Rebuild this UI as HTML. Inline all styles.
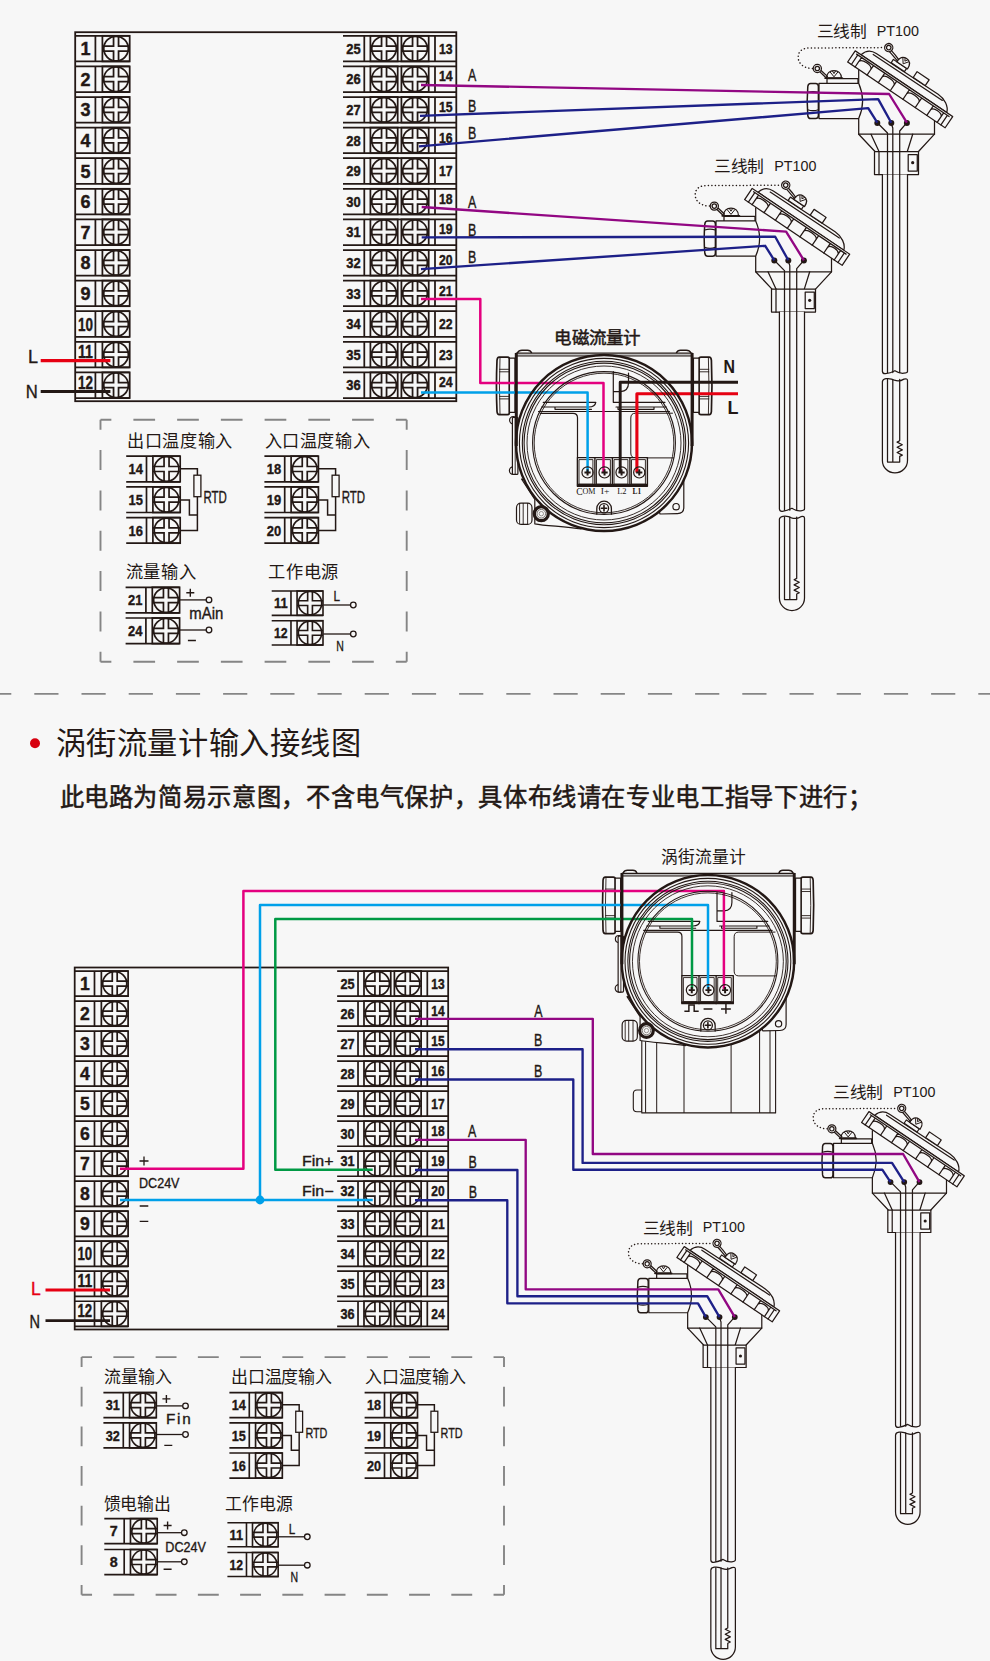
<!DOCTYPE html>
<html lang="zh-CN"><head><meta charset="utf-8"><title>wiring</title><style>html,body{margin:0;padding:0;background:#f7f7f7}svg{display:block}</style></head><body>
<svg width="990" height="1661" viewBox="0 0 990 1661" font-family="'Liberation Sans', sans-serif" fill="#231815">
<style>.m{stroke:#231815;stroke-width:.35px}</style>
<defs><g id="scr"><rect width="27.3" height="25.6"/><circle cx="13.65" cy="12.8" r="12.3"/><path d="M11.15,0V10.3H0M16.15,0V10.3H27.3M11.15,25.6V15.3H0M16.15,25.6V15.3H27.3"/></g><g id="blk" fill="none" stroke="#231815" stroke-width="1.75"><rect y="-0.3" width="381.1" height="369" stroke-width="1.8"/><use href="#scr" x="27.2" y="3.3"/><use href="#scr" x="295.2" y="3.3"/><use href="#scr" x="326.2" y="3.3"/><use href="#scr" x="27.2" y="33.9"/><use href="#scr" x="295.2" y="33.9"/><use href="#scr" x="326.2" y="33.9"/><use href="#scr" x="27.2" y="64.5"/><use href="#scr" x="295.2" y="64.5"/><use href="#scr" x="326.2" y="64.5"/><use href="#scr" x="27.2" y="95.1"/><use href="#scr" x="295.2" y="95.1"/><use href="#scr" x="326.2" y="95.1"/><use href="#scr" x="27.2" y="125.7"/><use href="#scr" x="295.2" y="125.7"/><use href="#scr" x="326.2" y="125.7"/><use href="#scr" x="27.2" y="156.3"/><use href="#scr" x="295.2" y="156.3"/><use href="#scr" x="326.2" y="156.3"/><use href="#scr" x="27.2" y="186.9"/><use href="#scr" x="295.2" y="186.9"/><use href="#scr" x="326.2" y="186.9"/><use href="#scr" x="27.2" y="217.5"/><use href="#scr" x="295.2" y="217.5"/><use href="#scr" x="326.2" y="217.5"/><use href="#scr" x="27.2" y="248.1"/><use href="#scr" x="295.2" y="248.1"/><use href="#scr" x="326.2" y="248.1"/><use href="#scr" x="27.2" y="278.7"/><use href="#scr" x="295.2" y="278.7"/><use href="#scr" x="326.2" y="278.7"/><use href="#scr" x="27.2" y="309.3"/><use href="#scr" x="295.2" y="309.3"/><use href="#scr" x="326.2" y="309.3"/><use href="#scr" x="27.2" y="339.9"/><use href="#scr" x="295.2" y="339.9"/><use href="#scr" x="326.2" y="339.9"/><path d="M0,3.3H54.5M0,28.9H54.5M20.2,3.3V28.9M267.8,3.3H381.1M267.8,28.9H381.1M289.1,3.3V28.9M359.8,3.3V28.9M0,33.9H54.5M0,59.5H54.5M20.2,33.9V59.5M267.8,33.9H381.1M267.8,59.5H381.1M289.1,33.9V59.5M359.8,33.9V59.5M0,64.5H54.5M0,90.1H54.5M20.2,64.5V90.1M267.8,64.5H381.1M267.8,90.1H381.1M289.1,64.5V90.1M359.8,64.5V90.1M0,95.1H54.5M0,120.7H54.5M20.2,95.1V120.7M267.8,95.1H381.1M267.8,120.7H381.1M289.1,95.1V120.7M359.8,95.1V120.7M0,125.7H54.5M0,151.3H54.5M20.2,125.7V151.3M267.8,125.7H381.1M267.8,151.3H381.1M289.1,125.7V151.3M359.8,125.7V151.3M0,156.3H54.5M0,181.9H54.5M20.2,156.3V181.9M267.8,156.3H381.1M267.8,181.9H381.1M289.1,156.3V181.9M359.8,156.3V181.9M0,186.9H54.5M0,212.5H54.5M20.2,186.9V212.5M267.8,186.9H381.1M267.8,212.5H381.1M289.1,186.9V212.5M359.8,186.9V212.5M0,217.5H54.5M0,243.1H54.5M20.2,217.5V243.1M267.8,217.5H381.1M267.8,243.1H381.1M289.1,217.5V243.1M359.8,217.5V243.1M0,248.1H54.5M0,273.7H54.5M20.2,248.1V273.7M267.8,248.1H381.1M267.8,273.7H381.1M289.1,248.1V273.7M359.8,248.1V273.7M0,278.7H54.5M0,304.3H54.5M20.2,278.7V304.3M267.8,278.7H381.1M267.8,304.3H381.1M289.1,278.7V304.3M359.8,278.7V304.3M0,309.3H54.5M0,334.9H54.5M20.2,309.3V334.9M267.8,309.3H381.1M267.8,334.9H381.1M289.1,309.3V334.9M359.8,309.3V334.9M0,339.9H54.5M0,365.5H54.5M20.2,339.9V365.5M267.8,339.9H381.1M267.8,365.5H381.1M289.1,339.9V365.5M359.8,339.9V365.5"/></g><g id="pt" fill="#f7f7f7" stroke="#231815" stroke-width="1.25" stroke-linejoin="round" stroke-linecap="round"><path d="M812.5,68.5C804,68.3 798.5,64 798.2,57.5C798,51 803,48 809,48L884.5,47.6" fill="none" stroke-width="1.5" stroke-dasharray="0.1 3.4"/><path d="M810.6,83.5H815.6Q818.4,83.5 818.4,86.5V115.6Q818.4,118.6 815.6,118.6H810.6Q808.2,118.6 807.8,115.6Q806.6,101 807.8,86.5Q808.2,83.5 810.6,83.5Z" stroke-width="1.5"/><path d="M807.6,92.4Q813,90.6 818.4,92.4M807.6,109.8Q813,111.6 818.4,109.8" fill="none" stroke-width="1.2"/><path d="M858,83.3V78.7H827V83.3"/><path d="M858.7,70.2V83.3H819V118.5H858.7V134.2H934.5V120.5Z" stroke="none"/><path d="M858.7,83.3H819V118.5H858.7M858.7,70.2V83.3Q866.5,101 858.7,118.5V134.2H934.5V120.5" fill="none"/><path d="M826.6,78C826.6,73 830,70.5 834,70.5C838,70.5 841.4,73 841.4,78Z"/><path d="M830.3,72.2L834,76.8L837.7,72.2M832.4,70.9L834,73.6L835.6,70.9" fill="none" stroke-width="1"/><path d="M825.2,78.2H842.4" fill="none" stroke-width="1.7"/><path d="M819.4,71.4L826,77.7M820.8,70.2L827.4,76.4" fill="none" stroke-width="1.3"/><circle cx="817.3" cy="68.5" r="4.1"/><circle cx="817.3" cy="68.5" r="2.2"/><path d="M858.7,134.2L875,151.5M934.5,134.2L918.5,151.5M871,134.2L879,151.5M912.7,134.2L907.3,151.5" fill="none"/><rect x="874.5" y="151.5" width="44" height="23"/><path d="M879,151.5V174.5" fill="none"/><rect x="908.2" y="154.5" width="9.1" height="16.5"/><circle cx="912.7" cy="162.7" r="1.6" fill="#231815" stroke="none"/><path d="M882.4,174.5V371.4q0.3,2.6 3,2.3q5,-0.6 9.5,-3q4.5,3 9,2.5q3.6,-0.4 3.6,-1.8V174.5"/><path d="M882.4,381.6q0.3,-2.4 3.5,-2.9q5,-0.6 8.5,1.5q5,1.7 9.5,-1.1q3.6,-1 3.6,1.5V460.4A12.55,12.55 0 0 1 882.4,460.4Z"/><path d="M877.3,122.7L887.5,133V372.6M887.5,379.4V462H899.7V456.4l2.6,-1.3 -5.2,-2.6 5.2,-2.6 -5.2,-2.6 5.2,-2.6 -5.2,-2.6 2.6,-1.3V379.4M899.7,372.6V131L906.9,122.7M891,122.7L892.8,128V372.6M892.8,379.4V462" fill="none"/><g transform="translate(855.2,50.8) rotate(34)"><path d="M7,0C8.5,-6 13,-9.6 19,-9.6L93,-10.4C101,-10.4 108.5,-6 110.5,0Z"/><path d="M17,-7L100,-7.6" fill="none"/><rect x="63" y="-17.3" width="14.5" height="7"/><rect x="36.5" y="-14.2" width="16" height="4"/><path d="M40.5,-14.2C40.5,-19.5 43,-22.3 47,-22.3C51,-22.3 53.5,-19.5 53.5,-14.2Z"/><path d="M43.6,-20.6L47,-16L50.4,-20.6M45.4,-21.9L47,-19.2L48.6,-21.9" fill="none" stroke-width="0.9"/><path d="M28.5,-18.6C33,-17.6 36,-16.5 41,-15.2M29.3,-20.6C33.5,-19.6 37,-18.6 41,-17" fill="none"/><circle cx="26" cy="-21.4" r="4.1"/><circle cx="26" cy="-21.4" r="2.2"/><rect x="0" y="0" width="117.6" height="13.5"/><path d="M4.5,2V13.5M9,2V13.5M108,2V13.5M112.5,2V13.5M3,2H114.6M9,13.5V6.5C10.2,2.6 22.2,2.6 23.4,6.5V13.5M37,13.5V6.5C38.2,2.6 50.2,2.6 51.4,6.5V13.5M66.7,13.5V6.5C67.9,2.6 80.3,2.6 81.5,6.5V13.5M95.5,13.5V6.5C96.7,2.6 106.8,2.6 108,6.5V13.5M23.4,2V7M37,2V7M51.4,2V7M66.7,2V7M81.5,2V7M95.5,2V7" fill="none"/></g></g><g id="scl"><rect width="28" height="26"/><circle cx="14" cy="13" r="12.5"/><path d="M11.5,0V10.5H0M16.5,0V10.5H28M11.5,26V15.5H0M16.5,26V15.5H28"/></g></defs>
<rect width="990" height="1661" fill="#f7f7f7"/>
<use href="#blk" x="75.2" y="32.5"/>
<g transform="translate(75.2,32.5)"><g font-weight="bold" text-anchor="middle" stroke="#231815" stroke-width="0.4" fill="#231815"><text x="10.3" y="22.6" font-size="18">1</text><text x="278.3" y="21.2" font-size="14" textLength="14.4" lengthAdjust="spacingAndGlyphs">25</text><text x="370.6" y="21.2" font-size="14" textLength="13.6" lengthAdjust="spacingAndGlyphs">13</text><text x="10.3" y="53.2" font-size="18">2</text><text x="278.3" y="51.8" font-size="14" textLength="14.4" lengthAdjust="spacingAndGlyphs">26</text><text x="370.6" y="48.8" font-size="14" textLength="13.6" lengthAdjust="spacingAndGlyphs">14</text><text x="10.3" y="83.8" font-size="18">3</text><text x="278.3" y="82.4" font-size="14" textLength="14.4" lengthAdjust="spacingAndGlyphs">27</text><text x="370.6" y="79.4" font-size="14" textLength="13.6" lengthAdjust="spacingAndGlyphs">15</text><text x="10.3" y="114.4" font-size="18">4</text><text x="278.3" y="113" font-size="14" textLength="14.4" lengthAdjust="spacingAndGlyphs">28</text><text x="370.6" y="110" font-size="14" textLength="13.6" lengthAdjust="spacingAndGlyphs">16</text><text x="10.3" y="145" font-size="18">5</text><text x="278.3" y="143.6" font-size="14" textLength="14.4" lengthAdjust="spacingAndGlyphs">29</text><text x="370.6" y="143.6" font-size="14" textLength="13.6" lengthAdjust="spacingAndGlyphs">17</text><text x="10.3" y="175.6" font-size="18">6</text><text x="278.3" y="174.2" font-size="14" textLength="14.4" lengthAdjust="spacingAndGlyphs">30</text><text x="370.6" y="171.2" font-size="14" textLength="13.6" lengthAdjust="spacingAndGlyphs">18</text><text x="10.3" y="206.2" font-size="18">7</text><text x="278.3" y="204.8" font-size="14" textLength="14.4" lengthAdjust="spacingAndGlyphs">31</text><text x="370.6" y="201.8" font-size="14" textLength="13.6" lengthAdjust="spacingAndGlyphs">19</text><text x="10.3" y="236.8" font-size="18">8</text><text x="278.3" y="235.4" font-size="14" textLength="14.4" lengthAdjust="spacingAndGlyphs">32</text><text x="370.6" y="232.4" font-size="14" textLength="13.6" lengthAdjust="spacingAndGlyphs">20</text><text x="10.3" y="267.4" font-size="18">9</text><text x="278.3" y="266" font-size="14" textLength="14.4" lengthAdjust="spacingAndGlyphs">33</text><text x="370.6" y="263" font-size="14" textLength="13.6" lengthAdjust="spacingAndGlyphs">21</text><text x="10.3" y="298" font-size="18" textLength="15" lengthAdjust="spacingAndGlyphs">10</text><text x="278.3" y="296.6" font-size="14" textLength="14.4" lengthAdjust="spacingAndGlyphs">34</text><text x="370.6" y="296.6" font-size="14" textLength="13.6" lengthAdjust="spacingAndGlyphs">22</text><text x="10.3" y="325.6" font-size="18" textLength="15" lengthAdjust="spacingAndGlyphs">11</text><text x="278.3" y="327.2" font-size="14" textLength="14.4" lengthAdjust="spacingAndGlyphs">35</text><text x="370.6" y="327.2" font-size="14" textLength="13.6" lengthAdjust="spacingAndGlyphs">23</text><text x="10.3" y="356.2" font-size="18" textLength="15" lengthAdjust="spacingAndGlyphs">12</text><text x="278.3" y="357.8" font-size="14" textLength="14.4" lengthAdjust="spacingAndGlyphs">36</text><text x="370.6" y="354.8" font-size="14" textLength="13.6" lengthAdjust="spacingAndGlyphs">24</text></g></g>
<path d="M40.7,360.6H110.4" stroke="#e60012" stroke-width="3.4" fill="none"/>
<path d="M40.7,391.5H110.4" stroke="#231815" stroke-width="3" fill="none"/>
<text x="28" y="363.3" font-size="18" class="m">L</text>
<text x="25.8" y="398" font-size="18" textLength="12" lengthAdjust="spacingAndGlyphs" class="m">N</text>
<use href="#pt"/>
<use href="#pt" transform="translate(-103,137.6)"/>
<circle cx="877.3" cy="122.9" r="3" fill="#231815"/><circle cx="891.3" cy="122.9" r="3" fill="#231815"/><circle cx="906.9" cy="122.9" r="3" fill="#231815"/>
<polyline points="421,85 889.1,94 906.9,122.7" fill="none" stroke="#920783" stroke-width="2.35" stroke-linejoin="round"/>
<polyline points="420,115.8 878.2,99.1 891.3,122.7" fill="none" stroke="#1d2088" stroke-width="2.35" stroke-linejoin="round"/>
<polyline points="419,146.3 868.2,108.2 877.3,122.7" fill="none" stroke="#1d2088" stroke-width="2.35" stroke-linejoin="round"/>
<circle cx="774.3" cy="260.5" r="3" fill="#231815"/><circle cx="788.3" cy="260.5" r="3" fill="#231815"/><circle cx="803.9" cy="260.5" r="3" fill="#231815"/>
<polyline points="421.7,207 786.1,231.6 803.9,260.3" fill="none" stroke="#920783" stroke-width="2.35" stroke-linejoin="round"/>
<polyline points="421.7,237.4 775.2,236.7 788.3,260.3" fill="none" stroke="#1d2088" stroke-width="2.35" stroke-linejoin="round"/>
<polyline points="421,269.2 765.2,245.8 774.3,260.3" fill="none" stroke="#1d2088" stroke-width="2.35" stroke-linejoin="round"/>
<text x="472.2" y="81.4" font-size="16" text-anchor="middle" textLength="8.3" lengthAdjust="spacingAndGlyphs" class="m">A</text>
<text x="472.2" y="111.9" font-size="16" text-anchor="middle" textLength="8.3" lengthAdjust="spacingAndGlyphs" class="m">B</text>
<text x="472.2" y="138.7" font-size="16" text-anchor="middle" textLength="8.3" lengthAdjust="spacingAndGlyphs" class="m">B</text>
<text x="472.2" y="207.9" font-size="16" text-anchor="middle" textLength="8.3" lengthAdjust="spacingAndGlyphs" class="m">A</text>
<text x="472.2" y="235.7" font-size="16" text-anchor="middle" textLength="8.3" lengthAdjust="spacingAndGlyphs" class="m">B</text>
<text x="472.2" y="262.5" font-size="16" text-anchor="middle" textLength="8.3" lengthAdjust="spacingAndGlyphs" class="m">B</text>
<text x="816.5" y="37.2" font-size="16.3" textLength="49.5" lengthAdjust="spacingAndGlyphs">三线制</text><text x="876.8" y="36.1" font-size="15.4" textLength="42.2" lengthAdjust="spacingAndGlyphs">PT100</text>
<text x="714" y="171.9" font-size="16.3" textLength="49.5" lengthAdjust="spacingAndGlyphs">三线制</text><text x="774.3" y="170.8" font-size="15.4" textLength="42.2" lengthAdjust="spacingAndGlyphs">PT100</text>
<g fill="#f7f7f7" stroke="#231815" stroke-width="1.2" stroke-linejoin="round" stroke-linecap="round"><g><path d="M499.2,357.1H507.4Q509.4,357.1 509.4,359V412.8Q509.4,414.7 507.4,414.7H499.2Q497.3,414.7 497,411.5Q495.9,386 497,360.3Q497.3,357.1 499.2,357.1Z" stroke-width="1.7"/><path d="M500,358Q498.9,386 500,413.8M499.6,369.3H509M499.6,371.8H509M499.6,396.4H509M499.6,398.9H509" fill="none" stroke-width="0.9"/><rect x="509.4" y="358.2" width="5.6" height="54.2" stroke-width="1.3"/></g><g transform="translate(1208.4,0) scale(-1,1)"><path d="M499.2,357.1H507.4Q509.4,357.1 509.4,359V412.8Q509.4,414.7 507.4,414.7H499.2Q497.3,414.7 497,411.5Q495.9,386 497,360.3Q497.3,357.1 499.2,357.1Z" stroke-width="1.7"/><path d="M500,358Q498.9,386 500,413.8M499.6,369.3H509M499.6,371.8H509M499.6,396.4H509M499.6,398.9H509" fill="none" stroke-width="0.9"/><rect x="509.4" y="358.2" width="5.6" height="54.2" stroke-width="1.3"/></g><path d="M517.5,352.8q1.2,-2.6 4.5,-2.6h5.5q3,0 4,2.6M676.5,352.8q1,-2.6 4,-2.6h5.8q3.3,0 4.5,2.6" stroke-width="1.5"/><path d="M516.3,447V353.2H692.1V447" stroke-width="1.3"/><path d="M516.3,355.9H692.1" fill="none" stroke-width="1.2"/><path d="M517.5,354.55H691" fill="none" stroke="#bdbdbd" stroke-width="1.3"/><circle cx="513.2" cy="420.3" r="3.6"/><circle cx="513.2" cy="470.6" r="3.8"/><rect x="512.4" y="417.4" width="5.5" height="57" rx="1"/><path d="M515.2,417.4V474.4" fill="none" stroke-width="0.9"/><path d="M521.5,479L534.8,499.5V523.8C546,526 565,526.3 581,529L604,500Z"/><rect x="516.5" y="503.2" width="15.5" height="21.2" rx="4.5"/><path d="M519.6,504V523.6M523.2,503.4V524.2M527.6,503.4V524.2" fill="none" stroke-width="0.9"/><path d="M683.8,465V507.5Q683.8,513.4 677.5,513.6L660,514L650,480Z"/><circle cx="676.1" cy="506.7" r="3.2"/><circle cx="604" cy="443" r="88" stroke="none"/><path d="M543.2,402.3H595.8Q595,406.8 589,407H541.6M555,407V409.3H591.5M538.5,411.5H669.5M540.3,413.3H573Q577.5,413.3 577.5,417.8V457.6M613.3,371.5V402.3H665M616,407H666.4M618,407V409.3H654V407M628.5,373V383Q628.5,391 620.5,391.6H613.3" fill="none" stroke-width="1.2"/><path d="M672.5,413.2H635.5Q630.8,413.2 630.8,418V453Q630.8,457.9 635.5,457.9H673.5" fill="none" stroke-width="1"/><path d="M596.8,514.2V508.5A7.3,7.3 0 0 1 611.4,508.5V514.2" stroke-width="1.3"/><circle cx="604" cy="508.3" r="4.6" stroke-width="1.3"/><path d="M601.3,508.3H606.7M604,505.6V511" fill="none" stroke-width="1.6"/><rect x="577.4" y="457.6" width="70" height="28.6" stroke-width="1.4"/><rect x="579.4" y="459.6" width="13.5" height="24.6" stroke-width="0.9"/><rect x="596.9" y="459.6" width="13.5" height="24.6" stroke-width="0.9"/><path d="M594.9,457.6V486.2" stroke-width="1.4"/><rect x="614.4" y="459.6" width="13.5" height="24.6" stroke-width="0.9"/><path d="M612.4,457.6V486.2" stroke-width="1.4"/><rect x="631.9" y="459.6" width="13.5" height="24.6" stroke-width="0.9"/><path d="M629.9,457.6V486.2" stroke-width="1.4"/><path d="M578,484.9H646.8" stroke-width="2.4" fill="none"/></g><g font-family="'Liberation Serif', serif" font-size="8.4"><text x="576.2" y="494.6" font-size="9.6">C</text><text x="582.4" y="493.6" font-size="7.4" textLength="13" lengthAdjust="spacingAndGlyphs">OM</text><text x="600.8" y="494" font-size="8.4" textLength="8.6" lengthAdjust="spacingAndGlyphs">I+</text><text x="617.2" y="493.6" font-size="8.4" textLength="9.4" lengthAdjust="spacingAndGlyphs">L2</text><text x="632.6" y="493.8" font-size="8.4" textLength="8.6" lengthAdjust="spacingAndGlyphs" font-weight="bold">L1</text></g>
<polyline points="421,299 480.3,299 480.3,383 603.5,383 603.5,472.4" fill="none" stroke="#e4007f" stroke-width="2.5" stroke-linejoin="round"/>
<polyline points="421,392.6 587.6,392.6 587.6,472.4" fill="none" stroke="#00a0e9" stroke-width="2.5" stroke-linejoin="round"/>
<polyline points="738,382.2 620.2,382.2 620.2,472.4" fill="none" stroke="#231815" stroke-width="2.9" stroke-linejoin="round"/>
<polyline points="738,393.8 636.9,393.8 636.9,472.4" fill="none" stroke="#e60012" stroke-width="3.1" stroke-linejoin="round"/>
<g fill="none" stroke="#231815"><path d="M516.3,446V353M692.1,446V353" stroke-width="3"/><circle cx="604" cy="443" r="88" stroke-width="2.5"/><circle cx="604" cy="443" r="84.6" stroke-width="1.1"/><circle cx="604" cy="443" r="81.7" stroke-width="1.1"/><circle cx="604" cy="443" r="79.9" stroke-width="1.1"/><circle cx="604" cy="443" r="77" stroke-width="0.9"/><circle cx="604" cy="443" r="71.4" stroke-width="1.1"/><circle cx="604" cy="443" r="69.8" stroke-width="0.9"/><circle cx="541.3" cy="513.7" r="7" stroke-width="3.3" fill="#f7f7f7"/><circle cx="541.3" cy="513.7" r="4.3" stroke="#6b6460" stroke-width="0.9"/><circle cx="541.3" cy="513.7" r="2.2" stroke="#8a8480" stroke-width="0.9"/></g>
<g fill="none" stroke="#231815"><circle cx="587.55" cy="472.4" r="5.6" stroke-width="1.2"/><path d="M584.45,472.4H590.65M587.55,469.3V475.5" stroke-width="2" fill="none"/><circle cx="604.55" cy="472.4" r="5.6" stroke-width="1.2"/><path d="M601.45,472.4H607.65M604.55,469.3V475.5" stroke-width="2" fill="none"/><circle cx="621.55" cy="472.4" r="5.6" stroke-width="1.2"/><path d="M618.45,472.4H624.65M621.55,469.3V475.5" stroke-width="2" fill="none"/><circle cx="639.25" cy="472.4" r="5.6" stroke-width="1.2"/><path d="M636.15,472.4H642.35M639.25,469.3V475.5" stroke-width="2" fill="none"/></g>
<text x="723.6" y="372.6" font-size="18" textLength="11.5" lengthAdjust="spacingAndGlyphs" font-weight="bold">N</text>
<text x="727.5" y="414.3" font-size="18" font-weight="bold">L</text>
<text x="554.3" y="343.8" font-size="17.2" textLength="86.5" lengthAdjust="spacingAndGlyphs" stroke="#231815" stroke-width="0.5">电磁流量计</text>
<path d="M100.5,419.7H406.7M100.5,661.8H406.7" fill="none" stroke="#858585" stroke-width="1.9" stroke-dasharray="21.7 22.04" stroke-dashoffset="10.85"/><path d="M100.5,419.7V661.8M406.7,419.7V661.8" fill="none" stroke="#858585" stroke-width="1.9" stroke-dasharray="20 20.35" stroke-dashoffset="10"/><text x="127.3" y="446.6" font-size="17.6" textLength="105.4" lengthAdjust="spacingAndGlyphs">出口温度输入</text><text x="264.7" y="446.6" font-size="17.6" textLength="105.4" lengthAdjust="spacingAndGlyphs">入口温度输入</text><text x="125.8" y="577.6" font-size="17.6" textLength="70.6" lengthAdjust="spacingAndGlyphs">流量输入</text><text x="268.4" y="577.6" font-size="17.6" textLength="70.4" lengthAdjust="spacingAndGlyphs">工作电源</text><g transform="translate(126.2,456.2)"><path d="M0,0H54M0,25.6H54M20.3,0V25.6" fill="none" stroke="#231815" stroke-width="1.7"/><use href="#scr" x="26.7" y="0" fill="none" stroke="#231815" stroke-width="1.7"/><text x="9.55" y="18.1" font-size="14.6" text-anchor="middle" textLength="14.4" lengthAdjust="spacingAndGlyphs" font-weight="bold" stroke="#231815" stroke-width="0.35">14</text></g><g transform="translate(126.2,486.9)"><path d="M0,0H54M0,25.6H54M20.3,0V25.6" fill="none" stroke="#231815" stroke-width="1.7"/><use href="#scr" x="26.7" y="0" fill="none" stroke="#231815" stroke-width="1.7"/><text x="9.55" y="18.1" font-size="14.6" text-anchor="middle" textLength="14.4" lengthAdjust="spacingAndGlyphs" font-weight="bold" stroke="#231815" stroke-width="0.35">15</text></g><g transform="translate(126.2,517.6)"><path d="M0,0H54M0,25.6H54M20.3,0V25.6" fill="none" stroke="#231815" stroke-width="1.7"/><use href="#scr" x="26.7" y="0" fill="none" stroke="#231815" stroke-width="1.7"/><text x="9.55" y="18.1" font-size="14.6" text-anchor="middle" textLength="14.4" lengthAdjust="spacingAndGlyphs" font-weight="bold" stroke="#231815" stroke-width="0.35">16</text></g><path d="M180.2,468.7H197.4V475.2M197.4,496.7V530.5H180.2M180.2,500H189.4V515H197.4" fill="none" stroke="#231815" stroke-width="1.5"/><rect x="193.9" y="475.2" width="7" height="21.5" fill="#f7f7f7" stroke="#231815" stroke-width="1.3"/><text x="203.5" y="502.6" font-size="15.8" textLength="23.4" lengthAdjust="spacingAndGlyphs" class="m">RTD</text><g transform="translate(264.4,456.2)"><path d="M0,0H54M0,25.6H54M20.3,0V25.6" fill="none" stroke="#231815" stroke-width="1.7"/><use href="#scr" x="26.7" y="0" fill="none" stroke="#231815" stroke-width="1.7"/><text x="9.55" y="18.1" font-size="14.6" text-anchor="middle" textLength="14.4" lengthAdjust="spacingAndGlyphs" font-weight="bold" stroke="#231815" stroke-width="0.35">18</text></g><g transform="translate(264.4,486.9)"><path d="M0,0H54M0,25.6H54M20.3,0V25.6" fill="none" stroke="#231815" stroke-width="1.7"/><use href="#scr" x="26.7" y="0" fill="none" stroke="#231815" stroke-width="1.7"/><text x="9.55" y="18.1" font-size="14.6" text-anchor="middle" textLength="14.4" lengthAdjust="spacingAndGlyphs" font-weight="bold" stroke="#231815" stroke-width="0.35">19</text></g><g transform="translate(264.4,517.6)"><path d="M0,0H54M0,25.6H54M20.3,0V25.6" fill="none" stroke="#231815" stroke-width="1.7"/><use href="#scr" x="26.7" y="0" fill="none" stroke="#231815" stroke-width="1.7"/><text x="9.55" y="18.1" font-size="14.6" text-anchor="middle" textLength="14.4" lengthAdjust="spacingAndGlyphs" font-weight="bold" stroke="#231815" stroke-width="0.35">20</text></g><path d="M318.4,468.7H335.6V475.2M335.6,496.7V530.5H318.4M318.4,500H327.6V515H335.6" fill="none" stroke="#231815" stroke-width="1.5"/><rect x="332.1" y="475.2" width="7" height="21.5" fill="#f7f7f7" stroke="#231815" stroke-width="1.3"/><text x="341.7" y="502.6" font-size="15.8" textLength="23.4" lengthAdjust="spacingAndGlyphs" class="m">RTD</text><g transform="translate(125.6,587.3)"><path d="M0,0H54M0,25.6H54M20.3,0V25.6" fill="none" stroke="#231815" stroke-width="1.7"/><use href="#scr" x="26.7" y="0" fill="none" stroke="#231815" stroke-width="1.7"/><text x="9.55" y="18.1" font-size="14.6" text-anchor="middle" textLength="14.4" lengthAdjust="spacingAndGlyphs" font-weight="bold" stroke="#231815" stroke-width="0.35">21</text></g><g transform="translate(125.6,618)"><path d="M0,0H54M0,25.6H54M20.3,0V25.6" fill="none" stroke="#231815" stroke-width="1.7"/><use href="#scr" x="26.7" y="0" fill="none" stroke="#231815" stroke-width="1.7"/><text x="9.55" y="18.1" font-size="14.6" text-anchor="middle" textLength="14.4" lengthAdjust="spacingAndGlyphs" font-weight="bold" stroke="#231815" stroke-width="0.35">24</text></g><path d="M179.6,599.9H206" fill="none" stroke="#231815" stroke-width="1.3"/><path d="M179.6,630H206" fill="none" stroke="#231815" stroke-width="1.3"/><circle cx="209" cy="599.9" r="2.8" fill="#f7f7f7" stroke="#231815" stroke-width="1.3"/><circle cx="209" cy="630" r="2.8" fill="#f7f7f7" stroke="#231815" stroke-width="1.3"/><path d="M186.3,592.8H194.3M190.3,588.8V596.8M187.9,640.5H195.9" fill="none" stroke="#231815" stroke-width="1.4"/><text x="189.3" y="619" font-size="16" textLength="34" lengthAdjust="spacingAndGlyphs" class="m">mAin</text><g transform="translate(271.7,591) scale(0.95)"><path d="M0,0H54M0,25.6H54M20.3,0V25.6" fill="none" stroke="#231815" stroke-width="1.7"/><use href="#scr" x="26.7" y="0" fill="none" stroke="#231815" stroke-width="1.7"/><text x="9.55" y="18.1" font-size="14.6" text-anchor="middle" textLength="14.4" lengthAdjust="spacingAndGlyphs" font-weight="bold" stroke="#231815" stroke-width="0.35">11</text></g><g transform="translate(271.7,620.7) scale(0.95)"><path d="M0,0H54M0,25.6H54M20.3,0V25.6" fill="none" stroke="#231815" stroke-width="1.7"/><use href="#scr" x="26.7" y="0" fill="none" stroke="#231815" stroke-width="1.7"/><text x="9.55" y="18.1" font-size="14.6" text-anchor="middle" textLength="14.4" lengthAdjust="spacingAndGlyphs" font-weight="bold" stroke="#231815" stroke-width="0.35">12</text></g><path d="M323.3,605H350.4" fill="none" stroke="#231815" stroke-width="1.3"/><path d="M323.3,634H350.4" fill="none" stroke="#231815" stroke-width="1.3"/><circle cx="353.3" cy="605" r="2.8" fill="#f7f7f7" stroke="#231815" stroke-width="1.3"/><circle cx="353.3" cy="634" r="2.8" fill="#f7f7f7" stroke="#231815" stroke-width="1.3"/><text x="333.6" y="600.5" font-size="15" textLength="6.5" lengthAdjust="spacingAndGlyphs" class="m">L</text><text x="336.3" y="650.6" font-size="15" textLength="7.6" lengthAdjust="spacingAndGlyphs" class="m">N</text>
<path d="M-12.9,693.9H990" stroke="#868686" stroke-width="1.6" stroke-dasharray="24.2 23" fill="none"/>
<circle cx="35" cy="743.2" r="5" fill="#d7000f"/>
<text x="55.6" y="754.2" font-size="30.6" textLength="306" lengthAdjust="spacingAndGlyphs">涡街流量计输入接线图</text>
<text x="59.6" y="805.8" font-size="24.6" textLength="812.8" lengthAdjust="spacingAndGlyphs" stroke="#231815" stroke-width="0.55">此电路为简易示意图，不含电气保护，具体布线请在专业电工指导下进行；</text>
<use href="#blk" transform="translate(74.7,967.8) scale(0.98,0.981)"/>
<g transform="translate(74.7,967.8) scale(0.98,0.981)"><g font-weight="bold" text-anchor="middle" stroke="#231815" stroke-width="0.4" fill="#231815"><text x="10.3" y="22.6" font-size="18">1</text><text x="278.3" y="21.2" font-size="14" textLength="14.4" lengthAdjust="spacingAndGlyphs">25</text><text x="370.6" y="21.2" font-size="14" textLength="13.6" lengthAdjust="spacingAndGlyphs">13</text><text x="10.3" y="53.2" font-size="18">2</text><text x="278.3" y="51.8" font-size="14" textLength="14.4" lengthAdjust="spacingAndGlyphs">26</text><text x="370.6" y="48.8" font-size="14" textLength="13.6" lengthAdjust="spacingAndGlyphs">14</text><text x="10.3" y="83.8" font-size="18">3</text><text x="278.3" y="82.4" font-size="14" textLength="14.4" lengthAdjust="spacingAndGlyphs">27</text><text x="370.6" y="79.4" font-size="14" textLength="13.6" lengthAdjust="spacingAndGlyphs">15</text><text x="10.3" y="114.4" font-size="18">4</text><text x="278.3" y="113" font-size="14" textLength="14.4" lengthAdjust="spacingAndGlyphs">28</text><text x="370.6" y="110" font-size="14" textLength="13.6" lengthAdjust="spacingAndGlyphs">16</text><text x="10.3" y="145" font-size="18">5</text><text x="278.3" y="143.6" font-size="14" textLength="14.4" lengthAdjust="spacingAndGlyphs">29</text><text x="370.6" y="143.6" font-size="14" textLength="13.6" lengthAdjust="spacingAndGlyphs">17</text><text x="10.3" y="175.6" font-size="18">6</text><text x="278.3" y="174.2" font-size="14" textLength="14.4" lengthAdjust="spacingAndGlyphs">30</text><text x="370.6" y="171.2" font-size="14" textLength="13.6" lengthAdjust="spacingAndGlyphs">18</text><text x="10.3" y="206.2" font-size="18">7</text><text x="278.3" y="201.8" font-size="14" textLength="14.4" lengthAdjust="spacingAndGlyphs">31</text><text x="370.6" y="201.8" font-size="14" textLength="13.6" lengthAdjust="spacingAndGlyphs">19</text><text x="10.3" y="236.8" font-size="18">8</text><text x="278.3" y="232.4" font-size="14" textLength="14.4" lengthAdjust="spacingAndGlyphs">32</text><text x="370.6" y="232.4" font-size="14" textLength="13.6" lengthAdjust="spacingAndGlyphs">20</text><text x="10.3" y="267.4" font-size="18">9</text><text x="278.3" y="266" font-size="14" textLength="14.4" lengthAdjust="spacingAndGlyphs">33</text><text x="370.6" y="266" font-size="14" textLength="13.6" lengthAdjust="spacingAndGlyphs">21</text><text x="10.3" y="298" font-size="18" textLength="15" lengthAdjust="spacingAndGlyphs">10</text><text x="278.3" y="296.6" font-size="14" textLength="14.4" lengthAdjust="spacingAndGlyphs">34</text><text x="370.6" y="296.6" font-size="14" textLength="13.6" lengthAdjust="spacingAndGlyphs">22</text><text x="10.3" y="325.6" font-size="18" textLength="15" lengthAdjust="spacingAndGlyphs">11</text><text x="278.3" y="327.2" font-size="14" textLength="14.4" lengthAdjust="spacingAndGlyphs">35</text><text x="370.6" y="327.2" font-size="14" textLength="13.6" lengthAdjust="spacingAndGlyphs">23</text><text x="10.3" y="356.2" font-size="18" textLength="15" lengthAdjust="spacingAndGlyphs">12</text><text x="278.3" y="357.8" font-size="14" textLength="14.4" lengthAdjust="spacingAndGlyphs">36</text><text x="370.6" y="357.8" font-size="14" textLength="13.6" lengthAdjust="spacingAndGlyphs">24</text></g></g>
<g fill="#f7f7f7" stroke="#231815" stroke-width="1.1" stroke-linejoin="round"><path d="M633.3,1094Q633.3,1090 637,1090H641.8V1111.8H637Q633.3,1111.8 633.3,1108Z"/><path d="M641.8,1030V1112.9H775.6V1020" /><path d="M645.6,1036V1112.9M656.7,1036V1112.9M684,1036V1112.9M731.1,1036V1112.9M759.6,1025V1112.9M770,1020V1112.9" fill="none" stroke-width="1"/></g><g transform="translate(115.98,527.16) scale(0.98)"><g fill="#f7f7f7" stroke="#231815" stroke-width="1.2" stroke-linejoin="round" stroke-linecap="round"><g><path d="M499.2,357.1H507.4Q509.4,357.1 509.4,359V412.8Q509.4,414.7 507.4,414.7H499.2Q497.3,414.7 497,411.5Q495.9,386 497,360.3Q497.3,357.1 499.2,357.1Z" stroke-width="1.7"/><path d="M500,358Q498.9,386 500,413.8M499.6,369.3H509M499.6,371.8H509M499.6,396.4H509M499.6,398.9H509" fill="none" stroke-width="0.9"/><rect x="509.4" y="358.2" width="5.6" height="54.2" stroke-width="1.3"/></g><g transform="translate(1208.4,0) scale(-1,1)"><path d="M499.2,357.1H507.4Q509.4,357.1 509.4,359V412.8Q509.4,414.7 507.4,414.7H499.2Q497.3,414.7 497,411.5Q495.9,386 497,360.3Q497.3,357.1 499.2,357.1Z" stroke-width="1.7"/><path d="M500,358Q498.9,386 500,413.8M499.6,369.3H509M499.6,371.8H509M499.6,396.4H509M499.6,398.9H509" fill="none" stroke-width="0.9"/><rect x="509.4" y="358.2" width="5.6" height="54.2" stroke-width="1.3"/></g><path d="M517.5,352.8q1.2,-2.6 4.5,-2.6h5.5q3,0 4,2.6M676.5,352.8q1,-2.6 4,-2.6h5.8q3.3,0 4.5,2.6" stroke-width="1.5"/><path d="M516.3,447V353.2H692.1V447" stroke-width="1.3"/><path d="M516.3,355.9H692.1" fill="none" stroke-width="1.2"/><path d="M517.5,354.55H691" fill="none" stroke="#bdbdbd" stroke-width="1.3"/><circle cx="513.2" cy="420.3" r="3.6"/><circle cx="513.2" cy="470.6" r="3.8"/><rect x="512.4" y="417.4" width="5.5" height="57" rx="1"/><path d="M515.2,417.4V474.4" fill="none" stroke-width="0.9"/><path d="M521.5,479L534.8,499.5V523.8C546,526 565,526.3 581,529L604,500Z"/><rect x="516.5" y="503.2" width="15.5" height="21.2" rx="4.5"/><path d="M519.6,504V523.6M523.2,503.4V524.2M527.6,503.4V524.2" fill="none" stroke-width="0.9"/><path d="M683.8,465V507.5Q683.8,513.4 677.5,513.6L660,514L650,480Z"/><circle cx="676.1" cy="506.7" r="3.2"/><circle cx="604" cy="443" r="88" stroke="none"/><path d="M543.2,402.3H595.8Q595,406.8 589,407H541.6M555,407V409.3H591.5M538.5,411.5H669.5M540.3,413.3H573Q577.5,413.3 577.5,417.8V457.6M613.3,371.5V402.3H665M616,407H666.4M618,407V409.3H654V407M628.5,373V383Q628.5,391 620.5,391.6H613.3" fill="none" stroke-width="1.2"/><path d="M672.5,413.2H635.5Q630.8,413.2 630.8,418V453Q630.8,457.9 635.5,457.9H673.5" fill="none" stroke-width="1"/><path d="M596.8,514.2V508.5A7.3,7.3 0 0 1 611.4,508.5V514.2" stroke-width="1.3"/><circle cx="604" cy="508.3" r="4.6" stroke-width="1.3"/><path d="M601.3,508.3H606.7M604,505.6V511" fill="none" stroke-width="1.6"/><rect x="577.4" y="457.6" width="52.5" height="28.6" stroke-width="1.4"/><rect x="579.4" y="459.6" width="13.5" height="24.6" stroke-width="0.9"/><rect x="596.9" y="459.6" width="13.5" height="24.6" stroke-width="0.9"/><path d="M594.9,457.6V486.2" stroke-width="1.4"/><rect x="614.4" y="459.6" width="13.5" height="24.6" stroke-width="0.9"/><path d="M612.4,457.6V486.2" stroke-width="1.4"/><path d="M578,484.9H629.3" stroke-width="2.4" fill="none"/></g><path d="M580,494H584.6V487.6H590V494H594.6M599.6,491.6H608.6M617.4,491.6H627.4M622.4,486.6V496.6" fill="none" stroke="#231815" stroke-width="1.5"/></g>
<text x="661" y="862.6" font-size="16.8" textLength="84.8" lengthAdjust="spacingAndGlyphs">涡街流量计</text>
<use href="#pt" transform="translate(32.55,1061.85) scale(0.978)"/>
<use href="#pt" transform="translate(-152.15,1196.85) scale(0.978)"/>
<circle cx="890.55" cy="1182.05" r="2.9" fill="#231815"/><circle cx="904.24" cy="1182.05" r="2.9" fill="#231815"/><circle cx="919.5" cy="1182.05" r="2.9" fill="#231815"/>
<polyline points="415,1018.8 592.8,1018.8 592.8,1154 903.1,1154 919.5,1182.05" fill="none" stroke="#920783" stroke-width="2.35" stroke-linejoin="round"/>
<polyline points="415,1049.2 582.6,1049.2 582.6,1162.9 892,1162.9 904.24,1182.05" fill="none" stroke="#1d2088" stroke-width="2.35" stroke-linejoin="round"/>
<polyline points="415,1079.5 573.3,1079.5 573.3,1169.7 882.3,1169.7 890.55,1182.05" fill="none" stroke="#1d2088" stroke-width="2.35" stroke-linejoin="round"/>
<circle cx="705.85" cy="1317.05" r="2.9" fill="#231815"/><circle cx="719.54" cy="1317.05" r="2.9" fill="#231815"/><circle cx="734.8" cy="1317.05" r="2.9" fill="#231815"/>
<polyline points="415,1139.8 525.7,1139.8 525.7,1289.3 718.3,1289.3 734.8,1317.05" fill="none" stroke="#920783" stroke-width="2.35" stroke-linejoin="round"/>
<polyline points="415,1170 517.4,1170 517.4,1296.2 707.2,1296.2 719.54,1317.05" fill="none" stroke="#1d2088" stroke-width="2.35" stroke-linejoin="round"/>
<polyline points="415,1200.2 507.3,1200.2 507.3,1303.3 698,1303.3 705.85,1317.05" fill="none" stroke="#1d2088" stroke-width="2.35" stroke-linejoin="round"/>
<text x="833" y="1098.2" font-size="16.3" textLength="49.5" lengthAdjust="spacingAndGlyphs">三线制</text><text x="893.3" y="1097.1" font-size="15.4" textLength="42.2" lengthAdjust="spacingAndGlyphs">PT100</text>
<text x="642.5" y="1233.5" font-size="16.3" textLength="49.5" lengthAdjust="spacingAndGlyphs">三线制</text><text x="702.8" y="1232.4" font-size="15.4" textLength="42.2" lengthAdjust="spacingAndGlyphs">PT100</text>
<path d="M45.5,1290H110" stroke="#e60012" stroke-width="3.2" fill="none"/><path d="M45.5,1320.6H110" stroke="#231815" stroke-width="2.8" fill="none"/><text x="31" y="1294.7" font-size="17.5" fill="#e60012" stroke="#e60012" stroke-width="0.35">L</text><text x="29.6" y="1327.6" font-size="17.5" textLength="10.5" lengthAdjust="spacingAndGlyphs" class="m">N</text><polyline points="120,1168.7 243.4,1168.7 243.4,890.9 723.9,890.9 723.9,989" fill="none" stroke="#e4007f" stroke-width="2.5" stroke-linejoin="round"/><polyline points="120,1200 372.7,1200" fill="none" stroke="#00a0e9" stroke-width="2.5" stroke-linejoin="round"/><polyline points="260,1200 260,905.1 708,905.1 708,989" fill="none" stroke="#00a0e9" stroke-width="2.5" stroke-linejoin="round"/><polyline points="372.7,1169.7 275.3,1169.7 275.3,919 692,919 692,989" fill="none" stroke="#009944" stroke-width="2.5" stroke-linejoin="round"/><circle cx="260" cy="1200" r="4.4" fill="#00a0e9"/><path d="M139.5,1161H148.5M144,1156.5V1165.5M139.7,1206H148.3M139.7,1221.3H148.3" fill="none" stroke="#231815" stroke-width="1.3"/><text x="139" y="1188.3" font-size="14" textLength="40.5" lengthAdjust="spacingAndGlyphs" class="m">DC24V</text><text x="302" y="1165.6" font-size="14" textLength="31.5" lengthAdjust="spacingAndGlyphs" class="m">Fin+</text><text x="302" y="1196.4" font-size="14" textLength="31.5" lengthAdjust="spacingAndGlyphs" class="m">Fin−</text><text x="538.5" y="1016.9" font-size="16" text-anchor="middle" textLength="8.3" lengthAdjust="spacingAndGlyphs" class="m">A</text><text x="538.2" y="1046.2" font-size="16" text-anchor="middle" textLength="8.3" lengthAdjust="spacingAndGlyphs" class="m">B</text><text x="538.2" y="1077.4" font-size="16" text-anchor="middle" textLength="8.3" lengthAdjust="spacingAndGlyphs" class="m">B</text><text x="472.2" y="1136.9" font-size="16" text-anchor="middle" textLength="8.3" lengthAdjust="spacingAndGlyphs" class="m">A</text><text x="472.7" y="1168.4" font-size="16" text-anchor="middle" textLength="8.3" lengthAdjust="spacingAndGlyphs" class="m">B</text><text x="473" y="1197.9" font-size="16" text-anchor="middle" textLength="8.3" lengthAdjust="spacingAndGlyphs" class="m">B</text>
<g transform="translate(115.98,527.16) scale(0.98)"><g fill="none" stroke="#231815"><path d="M516.3,446V353M692.1,446V353" stroke-width="3"/><circle cx="604" cy="443" r="88" stroke-width="2.5"/><circle cx="604" cy="443" r="84.6" stroke-width="1.1"/><circle cx="604" cy="443" r="81.7" stroke-width="1.1"/><circle cx="604" cy="443" r="79.9" stroke-width="1.1"/><circle cx="604" cy="443" r="77" stroke-width="0.9"/><circle cx="604" cy="443" r="71.4" stroke-width="1.1"/><circle cx="604" cy="443" r="69.8" stroke-width="0.9"/><circle cx="541.3" cy="513.7" r="7" stroke-width="3.3" fill="#f7f7f7"/><circle cx="541.3" cy="513.7" r="4.3" stroke="#6b6460" stroke-width="0.9"/><circle cx="541.3" cy="513.7" r="2.2" stroke="#8a8480" stroke-width="0.9"/></g><g fill="none" stroke="#231815"><circle cx="587.55" cy="472.4" r="5.6" stroke-width="1.2"/><path d="M584.45,472.4H590.65M587.55,469.3V475.5" stroke-width="2" fill="none"/><circle cx="604.55" cy="472.4" r="5.6" stroke-width="1.2"/><path d="M601.45,472.4H607.65M604.55,469.3V475.5" stroke-width="2" fill="none"/><circle cx="621.55" cy="472.4" r="5.6" stroke-width="1.2"/><path d="M618.45,472.4H624.65M621.55,469.3V475.5" stroke-width="2" fill="none"/></g></g>
<path d="M81.6,1357.1H504M81.6,1594.8H504" fill="none" stroke="#858585" stroke-width="1.9" stroke-dasharray="20.9 21.34" stroke-dashoffset="10.45"/><path d="M81.6,1357.1V1594.8M504,1357.1V1594.8" fill="none" stroke="#858585" stroke-width="1.9" stroke-dasharray="19.8 19.82" stroke-dashoffset="9.9"/><text x="104" y="1383.4" font-size="17" textLength="67.8" lengthAdjust="spacingAndGlyphs">流量输入</text><text x="230.6" y="1383.4" font-size="17" textLength="101.8" lengthAdjust="spacingAndGlyphs">出口温度输入</text><text x="364.6" y="1383.4" font-size="17" textLength="101.8" lengthAdjust="spacingAndGlyphs">入口温度输入</text><text x="103.6" y="1510" font-size="17" textLength="67.5" lengthAdjust="spacingAndGlyphs">馈电输出</text><text x="225.4" y="1510" font-size="17" textLength="67.5" lengthAdjust="spacingAndGlyphs">工作电源</text><g transform="translate(103.4,1392.6) scale(0.98)"><path d="M0,0H54M0,25.6H54M20.3,0V25.6" fill="none" stroke="#231815" stroke-width="1.7"/><use href="#scr" x="26.7" y="0" fill="none" stroke="#231815" stroke-width="1.7"/><text x="9.55" y="18.1" font-size="14.6" text-anchor="middle" textLength="14.4" lengthAdjust="spacingAndGlyphs" font-weight="bold" stroke="#231815" stroke-width="0.35">31</text></g><g transform="translate(103.4,1422.8) scale(0.98)"><path d="M0,0H54M0,25.6H54M20.3,0V25.6" fill="none" stroke="#231815" stroke-width="1.7"/><use href="#scr" x="26.7" y="0" fill="none" stroke="#231815" stroke-width="1.7"/><text x="9.55" y="18.1" font-size="14.6" text-anchor="middle" textLength="14.4" lengthAdjust="spacingAndGlyphs" font-weight="bold" stroke="#231815" stroke-width="0.35">32</text></g><path d="M156.6,1405.9H182.6" fill="none" stroke="#231815" stroke-width="1.3"/><path d="M156.6,1434.5H182.6" fill="none" stroke="#231815" stroke-width="1.3"/><circle cx="185.5" cy="1405.9" r="2.8" fill="#f7f7f7" stroke="#231815" stroke-width="1.3"/><circle cx="185.5" cy="1434.5" r="2.8" fill="#f7f7f7" stroke="#231815" stroke-width="1.3"/><path d="M162.4,1398.9H170.4M166.4,1394.9V1402.9M164.3,1445.4H172.3" fill="none" stroke="#231815" stroke-width="1.4"/><text x="166" y="1423.6" font-size="15.3" class="m" textLength="24.8" lengthAdjust="spacing">Fin</text><g transform="translate(229.4,1392.6) scale(0.98)"><path d="M0,0H54M0,25.6H54M20.3,0V25.6" fill="none" stroke="#231815" stroke-width="1.7"/><use href="#scr" x="26.7" y="0" fill="none" stroke="#231815" stroke-width="1.7"/><text x="9.55" y="18.1" font-size="14.6" text-anchor="middle" textLength="14.4" lengthAdjust="spacingAndGlyphs" font-weight="bold" stroke="#231815" stroke-width="0.35">14</text></g><g transform="translate(229.4,1422.8) scale(0.98)"><path d="M0,0H54M0,25.6H54M20.3,0V25.6" fill="none" stroke="#231815" stroke-width="1.7"/><use href="#scr" x="26.7" y="0" fill="none" stroke="#231815" stroke-width="1.7"/><text x="9.55" y="18.1" font-size="14.6" text-anchor="middle" textLength="14.4" lengthAdjust="spacingAndGlyphs" font-weight="bold" stroke="#231815" stroke-width="0.35">15</text></g><g transform="translate(229.4,1453) scale(0.98)"><path d="M0,0H54M0,25.6H54M20.3,0V25.6" fill="none" stroke="#231815" stroke-width="1.7"/><use href="#scr" x="26.7" y="0" fill="none" stroke="#231815" stroke-width="1.7"/><text x="9.55" y="18.1" font-size="14.6" text-anchor="middle" textLength="14.4" lengthAdjust="spacingAndGlyphs" font-weight="bold" stroke="#231815" stroke-width="0.35">16</text></g><g transform="translate(229.4,1392.6) scale(0.98) translate(-229.4,-456.2)"><path d="M283.4,468.7H300.6V475.2M300.6,496.7V530.5H283.4M283.4,500H292.6V515H300.6" fill="none" stroke="#231815" stroke-width="1.5"/><rect x="297.1" y="475.2" width="7" height="21.5" fill="#f7f7f7" stroke="#231815" stroke-width="1.3"/></g><text x="305.4" y="1438" font-size="15.3" textLength="22" lengthAdjust="spacingAndGlyphs" class="m">RTD</text><g transform="translate(364.6,1392.6) scale(0.98)"><path d="M0,0H54M0,25.6H54M20.3,0V25.6" fill="none" stroke="#231815" stroke-width="1.7"/><use href="#scr" x="26.7" y="0" fill="none" stroke="#231815" stroke-width="1.7"/><text x="9.55" y="18.1" font-size="14.6" text-anchor="middle" textLength="14.4" lengthAdjust="spacingAndGlyphs" font-weight="bold" stroke="#231815" stroke-width="0.35">18</text></g><g transform="translate(364.6,1422.8) scale(0.98)"><path d="M0,0H54M0,25.6H54M20.3,0V25.6" fill="none" stroke="#231815" stroke-width="1.7"/><use href="#scr" x="26.7" y="0" fill="none" stroke="#231815" stroke-width="1.7"/><text x="9.55" y="18.1" font-size="14.6" text-anchor="middle" textLength="14.4" lengthAdjust="spacingAndGlyphs" font-weight="bold" stroke="#231815" stroke-width="0.35">19</text></g><g transform="translate(364.6,1453) scale(0.98)"><path d="M0,0H54M0,25.6H54M20.3,0V25.6" fill="none" stroke="#231815" stroke-width="1.7"/><use href="#scr" x="26.7" y="0" fill="none" stroke="#231815" stroke-width="1.7"/><text x="9.55" y="18.1" font-size="14.6" text-anchor="middle" textLength="14.4" lengthAdjust="spacingAndGlyphs" font-weight="bold" stroke="#231815" stroke-width="0.35">20</text></g><g transform="translate(364.6,1392.6) scale(0.98) translate(-364.6,-456.2)"><path d="M418.6,468.7H435.8V475.2M435.8,496.7V530.5H418.6M418.6,500H427.8V515H435.8" fill="none" stroke="#231815" stroke-width="1.5"/><rect x="432.3" y="475.2" width="7" height="21.5" fill="#f7f7f7" stroke="#231815" stroke-width="1.3"/></g><text x="440.6" y="1438" font-size="15.3" textLength="22" lengthAdjust="spacingAndGlyphs" class="m">RTD</text><g transform="translate(104.3,1518.6) scale(0.98)"><path d="M0,0H54M0,25.6H54M20.3,0V25.6" fill="none" stroke="#231815" stroke-width="1.7"/><use href="#scr" x="26.7" y="0" fill="none" stroke="#231815" stroke-width="1.7"/><text x="9.55" y="18.1" font-size="14.6" text-anchor="middle" font-weight="bold" stroke="#231815" stroke-width="0.35">7</text></g><g transform="translate(104.3,1549.5) scale(0.98)"><path d="M0,0H54M0,25.6H54M20.3,0V25.6" fill="none" stroke="#231815" stroke-width="1.7"/><use href="#scr" x="26.7" y="0" fill="none" stroke="#231815" stroke-width="1.7"/><text x="9.55" y="18.1" font-size="14.6" text-anchor="middle" font-weight="bold" stroke="#231815" stroke-width="0.35">8</text></g><path d="M157.2,1532.7H181.4" fill="none" stroke="#231815" stroke-width="1.3"/><path d="M157.2,1561.8H181.4" fill="none" stroke="#231815" stroke-width="1.3"/><circle cx="184.3" cy="1532.7" r="2.8" fill="#f7f7f7" stroke="#231815" stroke-width="1.3"/><circle cx="184.3" cy="1561.8" r="2.8" fill="#f7f7f7" stroke="#231815" stroke-width="1.3"/><path d="M163.6,1525.5H171.6M167.6,1521.5V1529.5M163.6,1569.2H171.6" fill="none" stroke="#231815" stroke-width="1.4"/><text x="165.3" y="1552.2" font-size="14" textLength="40.6" lengthAdjust="spacingAndGlyphs" class="m">DC24V</text><g transform="translate(227.4,1522.7) scale(0.94)"><path d="M0,0H54M0,25.6H54M20.3,0V25.6" fill="none" stroke="#231815" stroke-width="1.7"/><use href="#scr" x="26.7" y="0" fill="none" stroke="#231815" stroke-width="1.7"/><text x="9.55" y="18.1" font-size="14.6" text-anchor="middle" textLength="14.4" lengthAdjust="spacingAndGlyphs" font-weight="bold" stroke="#231815" stroke-width="0.35">11</text></g><g transform="translate(227.4,1552.5) scale(0.94)"><path d="M0,0H54M0,25.6H54M20.3,0V25.6" fill="none" stroke="#231815" stroke-width="1.7"/><use href="#scr" x="26.7" y="0" fill="none" stroke="#231815" stroke-width="1.7"/><text x="9.55" y="18.1" font-size="14.6" text-anchor="middle" textLength="14.4" lengthAdjust="spacingAndGlyphs" font-weight="bold" stroke="#231815" stroke-width="0.35">12</text></g><path d="M278.4,1536.8H304.4" fill="none" stroke="#231815" stroke-width="1.3"/><path d="M278.4,1565.2H304.4" fill="none" stroke="#231815" stroke-width="1.3"/><circle cx="307.3" cy="1536.8" r="2.8" fill="#f7f7f7" stroke="#231815" stroke-width="1.3"/><circle cx="307.3" cy="1565.2" r="2.8" fill="#f7f7f7" stroke="#231815" stroke-width="1.3"/><text x="288.8" y="1533.6" font-size="15" textLength="6.5" lengthAdjust="spacingAndGlyphs" class="m">L</text><text x="290.6" y="1582" font-size="15" textLength="7.6" lengthAdjust="spacingAndGlyphs" class="m">N</text>
</svg>
</body></html>
